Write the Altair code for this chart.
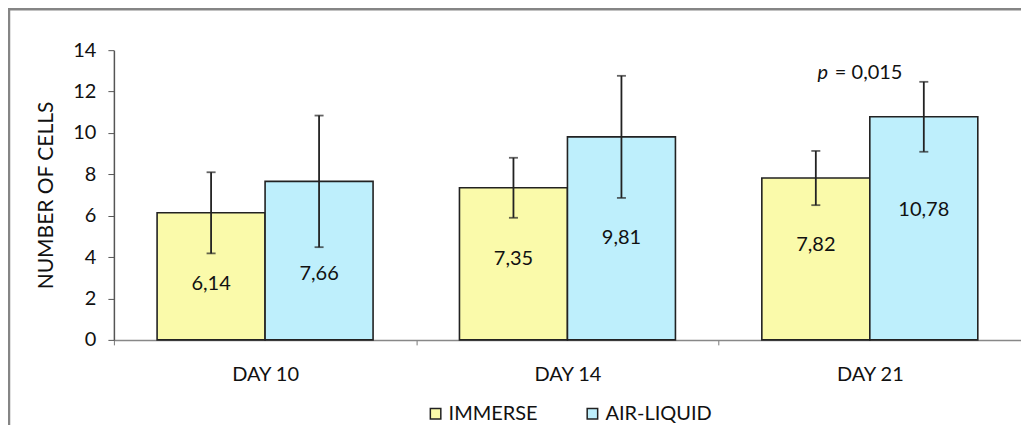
import altair as alt
import pandas as pd

days = ["DAY 10", "DAY 14", "DAY 21"]
series = ["IMMERSE", "AIR-LIQUID"]
immerse = [6.14, 7.35, 7.82]
air_liquid = [7.66, 9.81, 10.78]
immerse_sd = [1.96, 1.45, 1.31]
air_liquid_sd = [3.18, 2.95, 1.69]
immerse_label_at = [2.72, 3.93, 4.57]
air_liquid_label_at = [3.16, 4.90, 6.30]
p_text_day = "DAY 21"
p_text_at = 12.92

rows = []
for i, d in enumerate(days):
    rows.append(dict(day=d, series="IMMERSE", value=immerse[i], sd=immerse_sd[i],
                     label=f"{immerse[i]:.2f}".replace(".", ","), label_at=immerse_label_at[i]))
    rows.append(dict(day=d, series="AIR-LIQUID", value=air_liquid[i], sd=air_liquid_sd[i],
                     label=f"{air_liquid[i]:.2f}".replace(".", ","), label_at=air_liquid_label_at[i]))
df = pd.DataFrame(rows)
df["lo"] = df["value"] - df["sd"]
df["hi"] = df["value"] + df["sd"]
df["p_day"] = p_text_day
df["p_at"] = p_text_at

FONT = "Lato"
FS = 20

x = alt.X("day:N", sort=days, title=None,
          scale=alt.Scale(paddingInner=0, paddingOuter=0),
          axis=alt.Axis(labelAngle=0, labelFontSize=FS, labelColor="#111", labelFont=FONT,
                        tickBand="extent", tickSize=5, tickColor="#777", domainColor="#888",
                        domainWidth=1.5, labelPadding=20, grid=False))
xo = alt.XOffset("series:N", sort=series, scale=alt.Scale(paddingInner=0, paddingOuter=0.4))
y_scale = alt.Scale(domain=[0, 14], nice=False)

base = alt.Chart(df)

bars = base.mark_bar(stroke="#222", strokeWidth=1.6).encode(
    x=x, xOffset=xo,
    y=alt.Y("value:Q", scale=y_scale, title="NUMBER OF CELLS",
            axis=alt.Axis(values=[0, 2, 4, 6, 8, 10, 12, 14], grid=False, tickSize=6,
                          tickColor="#555", domainColor="#555", domainWidth=1.5,
                          labelFontSize=FS, labelColor="#111", labelFont=FONT, labelPadding=12,
                          titleFont=FONT, titleFontSize=21, titleFontWeight="normal",
                          titleColor="#111", titlePadding=16)),
    color=alt.Color("series:N", sort=series,
                    scale=alt.Scale(domain=series, range=["#FAFAAA", "#BEEFFC"]),
                    legend=alt.Legend(title=None, orient="none", direction="horizontal",
                                      legendX=312, legendY=354, symbolType="square",
                                      symbolSize=110, symbolStrokeColor="#222",
                                      symbolStrokeWidth=1.5, labelFont=FONT, labelFontSize=FS,
                                      labelColor="#111", labelOffset=3, columnPadding=44)),
)

err = base.mark_rule(color="#222", strokeWidth=1.8).encode(
    x=x, xOffset=xo, y=alt.Y("lo:Q", scale=y_scale), y2="hi:Q")
cap_lo = base.mark_tick(color="#222", thickness=1.8, size=9, orient="horizontal").encode(
    x=x, xOffset=xo, y=alt.Y("lo:Q", scale=y_scale))
cap_hi = base.mark_tick(color="#222", thickness=1.8, size=9, orient="horizontal").encode(
    x=x, xOffset=xo, y=alt.Y("hi:Q", scale=y_scale))

labels = base.mark_text(font=FONT, fontSize=FS, color="#111", baseline="middle").encode(
    x=x, xOffset=xo, y=alt.Y("label_at:Q", scale=y_scale), text="label:N")

p_base = alt.Chart(df).transform_filter(alt.datum.series == "IMMERSE").transform_filter(
    alt.datum.day == p_text_day)
p_italic = p_base.mark_text(font=FONT, fontSize=FS, fontStyle="italic", color="#111",
                            dx=-47, baseline="middle").encode(
    x=alt.X("p_day:N", sort=days), y=alt.Y("p_at:Q", scale=y_scale), text=alt.value("p"))
p_rest = p_base.mark_text(font=FONT, fontSize=FS, color="#111", dx=-35,
                          align="left", baseline="middle").encode(
    x=alt.X("p_day:N", sort=days), y=alt.Y("p_at:Q", scale=y_scale), text=alt.value("= 0,015"))

cover_top = p_base.mark_rule(color="white", strokeWidth=3, clip=False).encode(
    x=alt.value(2), x2=alt.value(912), y=alt.value(0))
frame_top = p_base.mark_rule(color="#858585", strokeWidth=2.5, clip=False).encode(
    x=alt.value(-106), x2=alt.value(915), y=alt.value(-41))
frame_left = p_base.mark_rule(color="#858585", strokeWidth=2.5, clip=False).encode(
    x=alt.value(-105), y=alt.value(-42), y2=alt.value(380))

chart = alt.layer(bars, err, cap_lo, cap_hi, labels, p_italic, p_rest,
                  frame_top, frame_left, cover_top).properties(
    width=908, height=290,
    background="white",
    autosize=alt.AutoSizeParams(type="none"),
    padding={"left": 106, "top": 42, "right": 0, "bottom": 85},
).configure_view(stroke="transparent", strokeOpacity=0, strokeWidth=0, fill="white"
).configure_axis(grid=False)

chart.save("out.html", embed_options={"renderer": "svg", "actions": False})
